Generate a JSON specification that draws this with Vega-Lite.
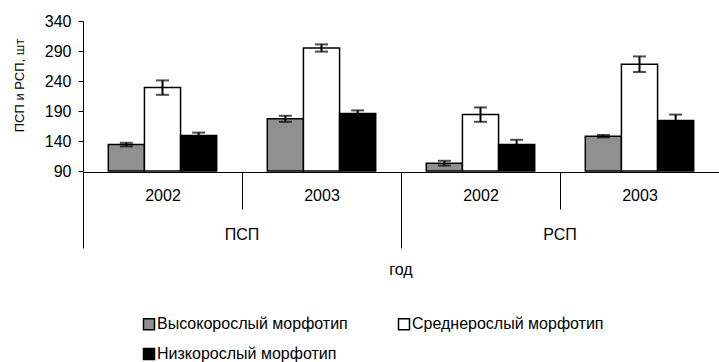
{
  "$schema": "https://vega.github.io/schema/vega-lite/v6.json",
  "padding": {"left": 13, "top": 13, "right": 0, "bottom": 0},
  "config": {
    "font": "Liberation Sans",
    "view": {"stroke": null},
    "axis": {"domainColor": "black", "tickColor": "black", "labelColor": "black", "titleColor": "black", "grid": false}
  },
  "data": {
    "values": [
      {"cat": "ПСП", "year": "2002", "morph": "Высокорослый морфотип", "value": 134, "lo": 131, "hi": 137},
      {"cat": "ПСП", "year": "2002", "morph": "Среднерослый морфотип", "value": 229, "lo": 217, "hi": 241},
      {"cat": "ПСП", "year": "2002", "morph": "Низкорослый морфотип", "value": 149, "lo": 144, "hi": 154},
      {"cat": "ПСП", "year": "2003", "morph": "Высокорослый морфотип", "value": 177, "lo": 172, "hi": 182},
      {"cat": "ПСП", "year": "2003", "morph": "Среднерослый морфотип", "value": 295, "lo": 289, "hi": 301},
      {"cat": "ПСП", "year": "2003", "morph": "Низкорослый морфотип", "value": 186, "lo": 181, "hi": 191},
      {"cat": "РСП", "year": "2002", "morph": "Высокорослый морфотип", "value": 103, "lo": 99, "hi": 107},
      {"cat": "РСП", "year": "2002", "morph": "Среднерослый морфотип", "value": 184, "lo": 172, "hi": 196},
      {"cat": "РСП", "year": "2002", "morph": "Низкорослый морфотип", "value": 134, "lo": 126, "hi": 142},
      {"cat": "РСП", "year": "2003", "morph": "Высокорослый морфотип", "value": 148, "lo": 146, "hi": 150},
      {"cat": "РСП", "year": "2003", "morph": "Среднерослый морфотип", "value": 268, "lo": 255, "hi": 281},
      {"cat": "РСП", "year": "2003", "morph": "Низкорослый морфотип", "value": 174, "lo": 164, "hi": 184}
    ]
  },
  "spacing": 0,
  "facet": {
    "column": {
      "field": "cat", "type": "nominal", "sort": ["ПСП", "РСП"], "title": "год",
      "header": {
        "labelOrient": "bottom", "titleOrient": "bottom",
        "labelFontSize": 16, "labelColor": "black", "labelPadding": -22,
        "titleFontSize": 16, "titleFontWeight": "normal", "titleColor": "black", "titlePadding": 3
      }
    }
  },
  "spec": {
    "width": 318,
    "height": 150,
    "encoding": {
      "x": {
        "field": "year", "type": "ordinal",
        "scale": {"paddingInner": 0, "paddingOuter": 0},
        "axis": {
          "title": null, "labelAngle": 0, "labelFontSize": 16,
          "labelPadding": -22,
          "tickBand": "extent",
          "tickSize": {"condition": {"test": "datum.value !== '2002' && datum.value !== '2003'", "value": 76}, "value": 37}
        }
      },
      "xOffset": {
        "field": "morph", "type": "nominal",
        "sort": ["Высокорослый морфотип", "Среднерослый морфотип", "Низкорослый морфотип"],
        "scale": {"paddingInner": 0, "paddingOuter": 0.7}
      }
    },
    "layer": [
      {
        "mark": {"type": "bar", "stroke": "black", "strokeWidth": 1.5},
        "encoding": {
          "y": {
            "field": "value", "type": "quantitative",
            "scale": {"domain": [90, 340], "nice": false, "zero": false},
            "axis": {
              "title": "ПСП и РСП, шт", "values": [90, 140, 190, 240, 290, 340], "labelOverlap": false,
              "labelFontSize": 16, "tickSize": 5, "labelPadding": 7, "titleY": 64,
              "titleFontSize": 13, "titleFontWeight": "normal", "titlePadding": 18
            }
          },
          "y2": {"datum": 90},
          "fill": {
            "field": "morph", "type": "nominal",
            "scale": {
              "domain": ["Высокорослый морфотип", "Среднерослый морфотип", "Низкорослый морфотип"],
              "range": ["#909090", "#ffffff", "#000000"]
            },
            "legend": {
              "title": null, "orient": "none", "legendX": 58, "legendY": 295,
              "columns": 2, "direction": "horizontal",
              "symbolType": "square", "symbolSize": 121, "symbolStrokeColor": "black", "symbolStrokeWidth": 1.5,
              "labelFontSize": 16, "labelColor": "black", "labelLimit": 400, "labelOffset": 0,
              "columnPadding": 47, "rowPadding": 12
            }
          }
        }
      },
      {
        "mark": {"type": "rule", "color": "black", "strokeWidth": 2},
        "encoding": {
          "y": {
            "field": "lo", "type": "quantitative",
            "scale": {"domain": [90, 340], "nice": false, "zero": false},
            "axis": {
              "title": "ПСП и РСП, шт", "values": [90, 140, 190, 240, 290, 340], "labelOverlap": false,
              "labelFontSize": 16, "tickSize": 5, "labelPadding": 7, "titleY": 64,
              "titleFontSize": 13, "titleFontWeight": "normal", "titlePadding": 18
            }
          },
          "y2": {"field": "hi"}
        }
      },
      {
        "mark": {"type": "tick", "color": "black", "size": 13, "thickness": 2},
        "encoding": {
          "y": {
            "field": "hi", "type": "quantitative",
            "scale": {"domain": [90, 340], "nice": false, "zero": false},
            "axis": {
              "title": "ПСП и РСП, шт", "values": [90, 140, 190, 240, 290, 340], "labelOverlap": false,
              "labelFontSize": 16, "tickSize": 5, "labelPadding": 7, "titleY": 64,
              "titleFontSize": 13, "titleFontWeight": "normal", "titlePadding": 18
            }
          }
        }
      },
      {
        "mark": {"type": "tick", "color": "black", "size": 13, "thickness": 2},
        "encoding": {
          "y": {
            "field": "lo", "type": "quantitative",
            "scale": {"domain": [90, 340], "nice": false, "zero": false},
            "axis": {
              "title": "ПСП и РСП, шт", "values": [90, 140, 190, 240, 290, 340], "labelOverlap": false,
              "labelFontSize": 16, "tickSize": 5, "labelPadding": 7, "titleY": 64,
              "titleFontSize": 13, "titleFontWeight": "normal", "titlePadding": 18
            }
          }
        }
      }
    ]
  }
}
